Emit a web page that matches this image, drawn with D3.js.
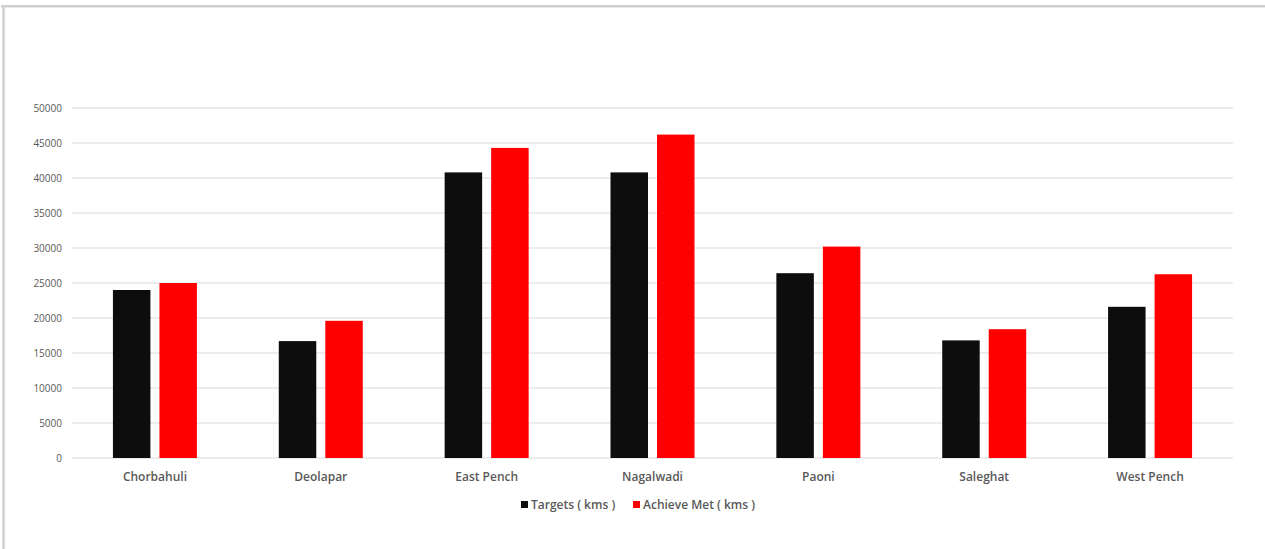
<!DOCTYPE html>
<html>
<head>
<meta charset="utf-8">
<script src="https://cdn.jsdelivr.net/npm/d3@7"></script>
<style>
  body { margin: 0; background: #fff; }
  svg { display: block; }
</style>
</head>
<body>
<svg id="Chart"></svg>
<script>
let categories = ["Chorbahuli", "Deolapar", "East Pench", "Nagalwadi", "Paoni", "Saleghat", "West Pench"]
let targets = [24000, 16700, 40800, 40800, 26400, 16800, 21600]
let achieved = [25000, 19600, 44300, 46200, 30200, 18400, 26250]
let seriesNames = ["Targets ( kms )", "Achieve Met ( kms )"]
let seriesColors = ["#0d0d0d", "#ff0000"]
let yTicks = [0, 5000, 10000, 15000, 20000, 25000, 30000, 35000, 40000, 45000, 50000]

function getConfig(){
    let width = 1265
    let height = 549
    let margin = { top: 108, bottom: 91, left: 72, right: 32 }
    let bodyWidth = width - margin.left - margin.right
    let bodyHeight = height - margin.top - margin.bottom
    let container = d3.select("#Chart")
        .attr("width", width)
        .attr("height", height)
    return { width, height, margin, bodyWidth, bodyHeight, container }
}

function getScales(config){
    let { bodyWidth, bodyHeight } = config
    let xScale = d3.scaleBand()
        .domain(categories)
        .range([0, bodyWidth])
    let yScale = d3.scaleLinear()
        .domain([0, 50000])
        .range([bodyHeight, 0])
    // two bars of ~37.5px with a 9px gap inside each 166px band
    let inner = d3.scaleBand()
        .domain([0, 1])
        .range([xScale.bandwidth() / 2 - 42, xScale.bandwidth() / 2 + 42])
        .paddingInner(0.194)
    return { xScale, yScale, inner }
}

function drawFrame(config){
    let { container, width, height } = config
    container.append("line")
        .attr("x1", 1).attr("x2", width)
        .attr("y1", 6.2).attr("y2", 6.2)
        .attr("stroke", "#d0d0d0").attr("stroke-width", 2.5)
    container.append("line")
        .attr("x1", 3.5).attr("x2", 3.5)
        .attr("y1", 5).attr("y2", height)
        .attr("stroke", "#d0d0d0").attr("stroke-width", 2.5)
}

function drawGrid(scales, config){
    let { yScale } = scales
    let { container, margin, bodyWidth } = config
    let g = container.append("g")
        .attr("transform", `translate(${margin.left},${margin.top})`)
    g.selectAll("line.grid").data(yTicks).enter().append("line")
        .attr("class", "grid")
        .attr("x1", 0).attr("x2", bodyWidth)
        .attr("y1", d => yScale(d)).attr("y2", d => yScale(d))
        .attr("stroke", "#d9d9d9").attr("stroke-width", 1)
}

function drawBars(scales, config){
    let { xScale, yScale, inner } = scales
    let { container, margin } = config
    let body = container.append("g")
        .attr("transform", `translate(${margin.left},${margin.top})`)
    let rows = categories.map((c, i) => ({ cat: c, vals: [targets[i], achieved[i]] }))
    let groups = body.selectAll("g.cat").data(rows).enter().append("g")
        .attr("transform", d => `translate(${xScale(d.cat)},0)`)
    groups.selectAll("rect").data(d => d.vals).enter().append("rect")
        .attr("x", (d, i) => inner(i))
        .attr("width", inner.bandwidth())
        .attr("y", d => yScale(d))
        .attr("height", d => yScale(0) - yScale(d))
        .attr("fill", (d, i) => seriesColors[i])
}

function drawAxes(scales, config){
    let { xScale, yScale } = scales
    let { container, margin, bodyHeight } = config
    let axisY = d3.axisLeft(yScale).tickValues(yTicks).tickFormat(d3.format("d"))
        .tickSize(0).tickPadding(10)
    let gy = container.append("g")
        .attr("transform", `translate(${margin.left},${margin.top})`)
        .call(axisY)
    gy.select(".domain").remove()
    gy.selectAll("text")
        .attr("fill", "#595959")
        .style("font-family", "'Open Sans', sans-serif")
        .style("font-size", "10px")

    let axisX = d3.axisBottom(xScale).tickSize(0).tickPadding(14)
    let gx = container.append("g")
        .attr("transform", `translate(${margin.left},${margin.top + bodyHeight})`)
        .call(axisX)
    gx.select(".domain").remove()
    gx.selectAll("text")
        .attr("fill", "#595959")
        .style("font-family", "'Open Sans', sans-serif")
        .style("font-size", "12px")
        .style("font-weight", "600")
}

function drawLegend(config){
    let { container } = config
    let offsets = [521, 633]
    let lg = container.append("g")
    seriesNames.forEach((name, i) => {
        lg.append("rect")
            .attr("x", offsets[i]).attr("y", 501)
            .attr("width", 7).attr("height", 7)
            .attr("fill", seriesColors[i])
        lg.append("text")
            .attr("x", offsets[i] + 10).attr("y", 509)
            .attr("fill", "#595959")
            .style("font-family", "'Open Sans', sans-serif")
            .style("font-size", "12px")
            .style("font-weight", "600")
            .text(name)
    })
}

let config = getConfig()
let scales = getScales(config)
drawFrame(config)
drawGrid(scales, config)
drawBars(scales, config)
drawAxes(scales, config)
drawLegend(config)
</script>
</body>
</html>
